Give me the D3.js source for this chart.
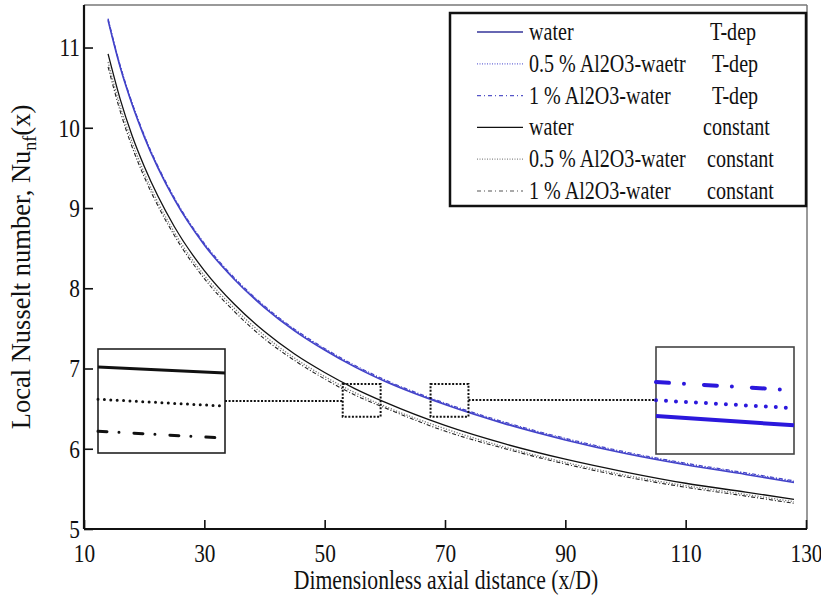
<!DOCTYPE html>
<html>
<head>
<meta charset="utf-8">
<script src="https://cdn.jsdelivr.net/npm/d3@7"></script>
<style>
  html, body { margin: 0; padding: 0; background: #fff; }
  svg { display: block; }
  svg text { font-family: "Liberation Serif", "Times New Roman", serif; fill: #111; }
</style>
</head>
<body>
<svg id="chart" width="821" height="601"></svg>
<script>
// Axial positions (x/D) at which the local Nusselt number is tabulated
const xD = [14, 16, 18, 20, 25, 30, 35, 40, 45, 50, 55, 60, 70, 80, 90, 100, 110, 120, 128];

// Temperature-dependent properties
const waterTdep   = [11.34, 10.76, 10.29, 9.89, 9.11, 8.54, 8.11, 7.76, 7.47, 7.23, 7.02, 6.84, 6.55, 6.31, 6.11, 5.94, 5.80, 5.68, 5.58];
const al05Tdep    = [11.35, 10.77, 10.30, 9.90, 9.12, 8.55, 8.12, 7.77, 7.48, 7.24, 7.03, 6.85, 6.56, 6.32, 6.12, 5.95, 5.81, 5.69, 5.59];
const al1Tdep     = [11.36, 10.78, 10.31, 9.91, 9.13, 8.56, 8.13, 7.78, 7.49, 7.25, 7.04, 6.86, 6.57, 6.33, 6.13, 5.96, 5.82, 5.70, 5.60];

// Constant properties
const waterConst  = [10.92, 10.36, 9.90, 9.52, 8.77, 8.22, 7.80, 7.46, 7.18, 6.95, 6.75, 6.58, 6.29, 6.06, 5.87, 5.71, 5.57, 5.46, 5.37];
const al05Const   = [10.82, 10.27, 9.82, 9.44, 8.70, 8.16, 7.75, 7.41, 7.13, 6.90, 6.70, 6.53, 6.25, 6.02, 5.83, 5.67, 5.54, 5.43, 5.34];
const al1Const    = [10.76, 10.21, 9.76, 9.39, 8.66, 8.12, 7.71, 7.37, 7.10, 6.87, 6.67, 6.51, 6.22, 6.00, 5.81, 5.65, 5.52, 5.41, 5.32];

// Tick values
const xMajorTicks = [10, 30, 50, 70, 90, 110, 130];
const xMinorTicks = d3.range(10, 131, 4);
const yMajorTicks = [5, 6, 7, 8, 9, 10, 11];
const yMinorTicks = d3.range(5, 11.55, 0.2);

// Zoom windows (x/D range, Nu range) and the magnified line ends inside each inset
const zoomConstX = [53.0, 59.3];
const zoomTdepX  = [67.6, 73.9];
const zoomNu     = [6.40, 6.806];
const insetConstWater = [6.736, 6.712];
const insetConst05    = [6.610, 6.583];
const insetConst1     = [6.485, 6.458];
const insetTdepWater  = [6.544, 6.509];
const insetTdep05     = [6.604, 6.574];
const insetTdep1      = [6.673, 6.642];

// Legend rows
const legendNames = ["water", "0.5 % Al2O3-waetr", "1 % Al2O3-water", "water", "0.5 % Al2O3-water", "1 % Al2O3-water"];
const legendKinds = ["T-dep", "T-dep", "T-dep", "constant", "constant", "constant"];

// Horizontal text is set in a tall, narrow serif face
const SQ = 0.82;
const svg = d3.select("#chart");
const margin = { left: 84, right: 807, top: 5, bottom: 529 };

function narrowText(parent, px, py, str, size, anchor) {
  return parent.append("text")
    .attr("transform", `translate(${px},${py}) scale(${SQ},1)`)
    .attr("font-size", size)
    .attr("text-anchor", anchor || "start")
    .text(str);
}

const x = d3.scaleLinear().domain([10, 130]).range([margin.left, 806]);
const y = d3.scaleLinear().domain([5, 11.53]).range([margin.bottom, margin.top]);

// Frame: light top and right border
svg.append("line").attr("x1", margin.left).attr("x2", margin.right)
  .attr("y1", margin.top).attr("y2", margin.top)
  .attr("stroke", "#777").attr("stroke-width", 1.5);
svg.append("line").attr("x1", margin.right).attr("x2", margin.right)
  .attr("y1", margin.top).attr("y2", margin.bottom)
  .attr("stroke", "#777").attr("stroke-width", 1.5);

// Axes with inward ticks
const gx = svg.append("g").attr("transform", `translate(0,${margin.bottom})`);
gx.call(d3.axisBottom(x).tickValues(xMinorTicks).tickSize(-5).tickFormat(""));
gx.call(d3.axisBottom(x).tickValues(xMajorTicks).tickSize(-9).tickPadding(33).tickFormat(d3.format("d")));
const gy = svg.append("g").attr("transform", `translate(${margin.left},0)`);
gy.call(d3.axisLeft(y).tickValues(yMinorTicks).tickSize(-5).tickFormat(""));
gy.call(d3.axisLeft(y).tickValues(yMajorTicks).tickSize(-9).tickPadding(5).tickFormat(d3.format("d")));

[gx, gy].forEach(g => {
  g.attr("font-family", null);
  g.selectAll(".domain").attr("stroke", "#111").attr("stroke-width", 2.2);
  g.selectAll(".tick line").attr("stroke", "#111").attr("stroke-width", 1.6);
  g.selectAll(".tick text").attr("font-size", 26).attr("fill", "#111")
    .attr("transform", `scale(${SQ},1)`);
});
gx.selectAll(".tick text").attr("dy", null);
gx.select(".domain").attr("d", `M${margin.left},0H${margin.right}`);
gy.select(".domain").attr("d", `M0,${margin.bottom}V${margin.top}`);

// Axis titles
narrowText(svg, 446, 589, "Dimensionless axial distance (x/D)", 26.5, "middle");
const yt = svg.append("text").attr("transform", "translate(30,267) rotate(-90)")
  .attr("text-anchor", "middle").attr("font-size", 26.5);
yt.append("tspan").text("Local Nusselt number, Nu");
yt.append("tspan").attr("font-size", 18).attr("dy", 6).text("nf");
yt.append("tspan").attr("dy", -6).text("(x)");

// Curves
const blue = "#4343c9";
const series = [
  { v: waterConst, stroke: "#111", w: 1.3, dash: null },
  { v: al05Const,  stroke: "#777", w: 1.3, dash: "1.2,1.6" },
  { v: al1Const,   stroke: "#222", w: 1.1, dash: "4,2,1,2" },
  { v: waterTdep,  stroke: blue,   w: 1.6, dash: null },
  { v: al05Tdep,   stroke: blue,   w: 1.2, dash: "1.2,1.6" },
  { v: al1Tdep,    stroke: blue,   w: 1.2, dash: "4,2,1,2" }
];
const line = d3.line().x((d, i) => x(xD[i])).y(d => y(d)).curve(d3.curveMonotoneX);
svg.append("g").selectAll("path").data(series).join("path")
  .attr("d", s => line(s.v))
  .attr("fill", "none")
  .attr("stroke", s => s.stroke)
  .attr("stroke-width", s => s.w)
  .attr("stroke-dasharray", s => s.dash);

// Zoom windows drawn as dotted boxes on the plot
function zoomBox(xr) {
  svg.append("rect")
    .attr("x", x(xr[0])).attr("y", y(zoomNu[1]))
    .attr("width", x(xr[1]) - x(xr[0])).attr("height", y(zoomNu[0]) - y(zoomNu[1]))
    .attr("fill", "none").attr("stroke", "#111").attr("stroke-width", 2)
    .attr("stroke-dasharray", "2,1.6");
}
zoomBox(zoomConstX);
zoomBox(zoomTdepX);

// Insets with magnified lines
function inset(box, xr, lines, color, width, border) {
  const ix = d3.scaleLinear().domain(xr).range([box.x0, box.x1]);
  const iy = d3.scaleLinear().domain(zoomNu).range([box.y1, box.y0]);
  const g = svg.append("g");
  g.append("rect").attr("x", box.x0).attr("y", box.y0)
    .attr("width", box.x1 - box.x0).attr("height", box.y1 - box.y0)
    .attr("fill", "#fff").attr("stroke", border).attr("stroke-width", 1.6);
  lines.forEach(l => {
    g.append("line")
      .attr("x1", ix(xr[0])).attr("y1", iy(l.v[0]))
      .attr("x2", ix(xr[1])).attr("y2", iy(l.v[1]))
      .attr("stroke", color).attr("stroke-width", width)
      .attr("stroke-linecap", l.dash ? "round" : "butt")
      .attr("stroke-dasharray", l.dash);
  });
}
const leftBox = { x0: 98, x1: 225, y0: 349, y1: 453 };
const rightBox = { x0: 656, x1: 794, y0: 347, y1: 454 };
inset(leftBox, zoomConstX, [
  { v: insetConstWater, dash: null },
  { v: insetConst05, dash: "0,6.4" },
  { v: insetConst1, dash: "9,12,0,15" }
], "#111", 3, "#222");
inset(rightBox, zoomTdepX, [
  { v: insetTdepWater, dash: null },
  { v: insetTdep05, dash: "0,10" },
  { v: insetTdep1, dash: "13,15,0,20" }
], "#2b18dc", 4, "#444");

// Dotted leaders between boxes and insets
const leaderY = 401;
svg.append("line").attr("x1", leftBox.x1).attr("x2", x(zoomConstX[0]))
  .attr("y1", leaderY).attr("y2", leaderY)
  .attr("stroke", "#111").attr("stroke-width", 2).attr("stroke-dasharray", "2,1.6");
svg.append("line").attr("x1", x(zoomTdepX[1])).attr("x2", rightBox.x0)
  .attr("y1", leaderY - 1).attr("y2", leaderY - 1)
  .attr("stroke", "#111").attr("stroke-width", 2).attr("stroke-dasharray", "2,1.6");

// Legend
const lg = svg.append("g");
lg.append("rect").attr("x", 450).attr("y", 13).attr("width", 356).attr("height", 193)
  .attr("fill", "#fff").attr("stroke", "#111").attr("stroke-width", 2.5);
const legendStyles = [
  { stroke: "#35359a", w: 1.6, dash: null },
  { stroke: "#6a6ad6", w: 1.2, dash: "1,1.5" },
  { stroke: "#5555c8", w: 1.2, dash: "4,3,1,3" },
  { stroke: "#111", w: 1.4, dash: null },
  { stroke: "#888", w: 1.2, dash: "1,1.5" },
  { stroke: "#555", w: 1.2, dash: "4,3,1,3" }
];
const kindX = [710, 712, 712, 703, 707, 707];
legendNames.forEach((name, i) => {
  const cy = 32 + i * 31.8;
  lg.append("line").attr("x1", 477).attr("x2", 523).attr("y1", cy).attr("y2", cy)
    .attr("stroke", legendStyles[i].stroke).attr("stroke-width", legendStyles[i].w)
    .attr("stroke-dasharray", legendStyles[i].dash);
  narrowText(lg, 529, cy + 8, name, 24.5);
  narrowText(lg, kindX[i], cy + 8, legendKinds[i], 24.5);
});
</script>
</body>
</html>
